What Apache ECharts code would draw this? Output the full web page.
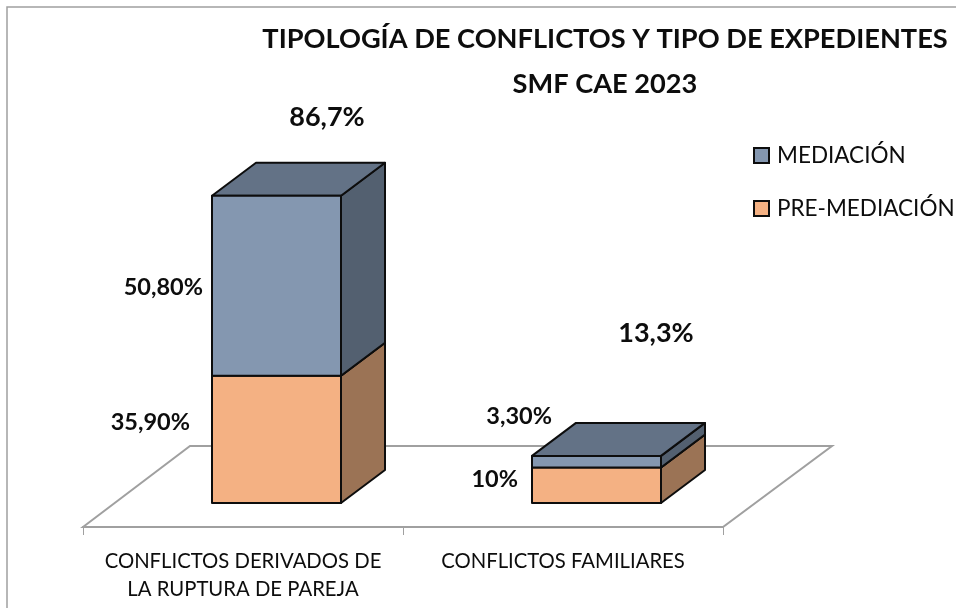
<!DOCTYPE html>
<html><head><meta charset="utf-8">
<style>html,body{margin:0;padding:0;background:#fff}#c{width:956px;height:608px}</style>
<script src="https://cdn.jsdelivr.net/npm/echarts@6/dist/echarts.min.js"></script>
</head><body><div id="c"></div>
<script>
const categories = ['CONFLICTOS DERIVADOS DE\nLA RUPTURA DE PAREJA', 'CONFLICTOS FAMILIARES'];
const preMediacion = [35.9, 10];
const mediacion = [50.8, 3.3];
const preLabels = ['35,90%', '10%'];
const medLabels = ['50,80%', '3,30%'];
const totalLabels = ['86,7%', '13,3%'];

const FONT = 'Lato';
const INK = '#0d0d0d';
const pal = {
  med: {front: '#8497b0', side: '#536070', top: '#637286'},
  pre: {front: '#f4b183', side: '#9b7355', top: '#c08a65'}
};
// oblique projection of the 3D box
const FLOOR_DX = 108, FLOOR_DY = -81;
const SHIFT_X = 33.5, SHIFT_Y = -24, DEPTH_X = 44, DEPTH_Y = -33, BAR_W = 129;
// hand placement of labels: [right edge from box left, y from segment centre]
const labelOffset = {
  med: [[-9, 2], [20, -45]],
  pre: [[-22, -17], [-14, -6]]
};
// hand placement of totals: [centre from box left, y from box top]
const totalOffset = [[115, -79], [124, -123]];

function poly(points, fill) {
  return {type: 'polygon', shape: {points}, style: {fill, stroke: INK, lineWidth: 2, lineJoin: 'round'}};
}
function labelText(x, y, text, align, size) {
  return {type: 'text', x, y, z2: 20, style: {text, fill: INK, font: 'bold ' + size + 'px ' + FONT, align, verticalAlign: 'middle'}};
}
function boxSeries(name, key, labels, isTop) {
  const c = pal[key];
  const data = categories.map((_, i) => {
    const base = key === 'pre' ? 0 : preMediacion[i];
    const v = key === 'pre' ? preMediacion[i] : mediacion[i];
    return [i, base, base + v];
  });
  return {
    name, type: 'custom', itemStyle: {color: c.front, borderColor: INK, borderWidth: 1.5},
    data, encode: {x: 0, y: [1, 2]}, z: key === 'pre' ? 3 : 4, silent: true,
    renderItem(params, api) {
      const i = api.value(0);
      const lo = api.coord([i, api.value(1)]);
      const hi = api.coord([i, api.value(2)]);
      const x0 = lo[0] + SHIFT_X - BAR_W / 2, x1 = x0 + BAR_W;
      const yb = lo[1] + SHIFT_Y, yt = hi[1] + SHIFT_Y;
      const children = [
        poly([[x1, yb], [x1 + DEPTH_X, yb + DEPTH_Y], [x1 + DEPTH_X, yt + DEPTH_Y], [x1, yt]], c.side),
        poly([[x0, yt], [x1, yt], [x1 + DEPTH_X, yt + DEPTH_Y], [x0 + DEPTH_X, yt + DEPTH_Y]], c.top),
        poly([[x0, yb], [x1, yb], [x1, yt], [x0, yt]], c.front)
      ];
      const o = labelOffset[key][i];
      children.push(labelText(x0 + o[0], (yb + yt) / 2 + o[1], labels[i], 'right', 23.5));
      if (isTop) {
        const t = totalOffset[i];
        children.push(labelText(x0 + t[0], yt + t[1], totalLabels[i], 'center', 27));
      }
      return {type: 'group', children};
    }
  };
}

const floorSeries = {
  type: 'custom', data: [[0, 0]], encode: {x: 0, y: 1}, z: 1, silent: true, legendHoverLink: false,
  renderItem(params, api) {
    const s = params.coordSys;
    const l = s.x, r = s.x + s.width, b = s.y + s.height;
    return {
      type: 'polygon',
      shape: {points: [[l, b], [l + FLOOR_DX - 1, b + FLOOR_DY], [r + FLOOR_DX + 1, b + FLOOR_DY], [r, b]]},
      style: {fill: '#fff', stroke: '#a0a0a0', lineWidth: 2}
    };
  }
};

const chart = echarts.init(document.getElementById('c'), null, {renderer: 'canvas'});
chart.setOption({
  animation: false,
  backgroundColor: '#fff',
  title: {
    text: 'TIPOLOGÍA DE CONFLICTOS Y TIPO DE EXPEDIENTES\nSMF CAE 2023',
    left: 605, top: 17, padding: 0, textAlign: 'center',
    textStyle: {fontFamily: FONT, fontWeight: 'bold', fontSize: 27.2, lineHeight: 45, color: INK}
  },
  legend: {
    orient: 'vertical', left: 753, top: 144, padding: 0, itemWidth: 15, itemHeight: 15, itemGap: 30, icon: 'rect',
    data: ['MEDIACIÓN', 'PRE-MEDIACIÓN'], selectedMode: false,
    textStyle: {fontFamily: FONT, fontSize: 22.5, color: INK, padding: [0, 0, 0, 3]}
  },
  grid: {left: 83, top: 172.7, width: 640, height: 354.3},
  xAxis: {
    type: 'category', data: categories,
    axisLine: {lineStyle: {color: '#a0a0a0', width: 2}},
    axisTick: {show: true, length: 8, lineStyle: {color: '#a0a0a0', width: 1}},
    axisLabel: {fontFamily: FONT, fontSize: 20.3, lineHeight: 28, color: INK, margin: 20, interval: 0}
  },
  yAxis: {type: 'value', min: 0, max: 100, show: false},
  graphic: [{
    type: 'rect', silent: true, z: -1,
    shape: {x: 7, y: 7, width: 1000, height: 700},
    style: {fill: 'transparent', stroke: '#a0a0a0', lineWidth: 1.5}
  }],
  series: [
    floorSeries,
    boxSeries('PRE-MEDIACIÓN', 'pre', preLabels, false),
    boxSeries('MEDIACIÓN', 'med', medLabels, true)
  ]
});
</script></body></html>
